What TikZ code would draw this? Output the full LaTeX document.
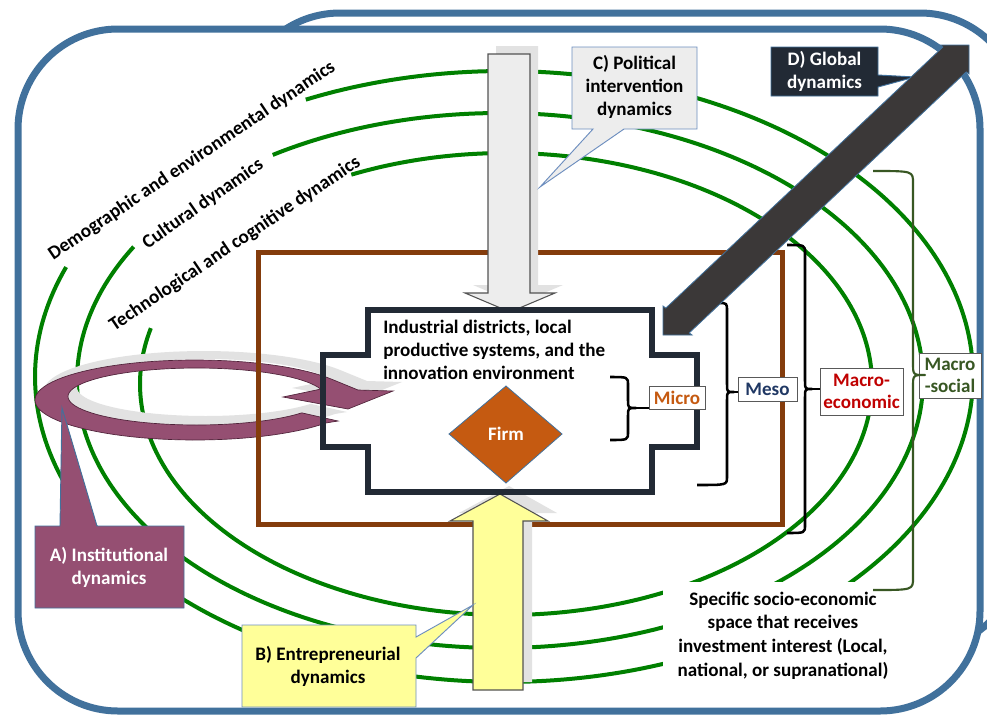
\documentclass[tikz,border=0pt]{standalone}
\usepackage{fontspec}
\setmainfont{Carlito}
\definecolor{frameblue}{RGB}{65,113,156}
\definecolor{ellgreen}{RGB}{0,128,0}
\definecolor{brownr}{RGB}{132,60,12}
\definecolor{navy}{RGB}{34,42,53}
\definecolor{firmor}{RGB}{197,90,17}
\definecolor{darkarrow}{RGB}{59,56,56}
\definecolor{lightg}{RGB}{237,237,237}
\definecolor{shadowg}{RGB}{226,226,226}
\definecolor{yel}{RGB}{255,255,153}
\definecolor{mauve}{RGB}{149,79,114}
\definecolor{mauveedge}{RGB}{80,35,58}
\definecolor{mesoblue}{RGB}{32,56,100}
\definecolor{macrored}{RGB}{192,0,0}
\definecolor{socgreen}{RGB}{56,87,35}
\definecolor{calloutedge}{RGB}{109,142,191}
\begin{document}
\begin{tikzpicture}[x=0.75pt,y=-0.75pt,
  lbl/.style={font=\fontsize{14.3}{17.3}\selectfont\bfseries, align=center, inner sep=0pt},
  rot/.style={font=\fontsize{14.4}{17}\selectfont\bfseries, inner sep=0pt},
  ell/.style={draw=ellgreen, line width=3pt},
  brace/.style={line width=1.9pt, line join=round},
  tag/.style={draw=gray!70!black, line width=0.6pt, fill=white, inner sep=1pt, align=center,
              font=\fontsize{14.3}{17}\selectfont\bfseries},
  frame/.style={draw=frameblue, line width=5.25pt, fill=white, rounded corners=75pt}]

\useasboundingbox (0,0) rectangle (987,714);

% frames
\path[frame] (240,13) rectangle (1020,650);
\path[frame] (18,29) rectangle (980,711);

% green ellipses
\draw[ell] plot[domain=245:561,samples=260] ({504+469*cos(\x)},{376.5+305.5*sin(\x)});
\draw[ell] plot[domain=237.5:570,samples=260] ({500+423*cos(\x)},{380.5+267.5*sin(\x)});
\draw[ell] plot[domain=245:554,samples=260] ({506+366*cos(\x)},{384+231*sin(\x)});

% rotated labels
\node[rot, rotate=34] (demo) at (192,161) {Demographic and environmental dynamics};
\node[rot, rotate=35] (cult) at (203,204) {Cultural dynamics};
\node[rot, rotate=34] (tech) at (235,244) {Technological and cognitive dynamics};

% white area behind the bottom-right text
\fill[white] (663,582) rectangle (905,702);

% circular institutional arrow: shadow, then arrow
\fill[shadowg, shift={(9,-9)}] (338,421) -- plot[domain=35:330,samples=80] ({195+160*cos(\x)},{400+40*sin(\x)})
   -- (358,390) -- (393,391) -- (348,409) -- (283,397)
   -- plot[domain=15:325,samples=80] ({196.5+128.5*cos(360-\x)},{396.5+28.5*sin(360-\x)}) -- cycle;
\draw[fill=mauve, draw=mauveedge, line width=0.5pt] (338,421) -- plot[domain=35:330,samples=80] ({195+160*cos(\x)},{400+40*sin(\x)})
   -- (358,390) -- (393,391) -- (348,409) -- (283,397)
   -- plot[domain=15:325,samples=80] ({196.5+128.5*cos(360-\x)},{396.5+28.5*sin(360-\x)}) -- cycle;

% brown rectangle
\draw[brownr, line width=3.75pt] (258,252) rectangle (782,524);

% C arrow (down)
\fill[shadowg] (496,46) -- (538,46) -- (538,285) -- (563,285) -- (518,304) -- (473,285) -- (496,285) -- cycle;
\draw[draw=gray!65!black, fill=lightg, line width=0.8pt] (488,54) -- (530,54) -- (530,293) -- (555,293) -- (510,312) -- (465,293) -- (488,293) -- cycle;

% B arrow (up)
\fill[shadowg] (482,682) -- (532,682) -- (532,513) -- (557,513) -- (509,486) -- (459,513) -- (482,513) -- cycle;
\draw[draw=gray!65!black, fill=yel, line width=0.8pt] (473,690) -- (523,690) -- (523,521) -- (548,521) -- (500,494) -- (450,521) -- (473,521) -- cycle;

% central cross-shaped box
\draw[navy, line width=4.5pt, line join=miter] (368,310) -- (652,310) -- (652,355) -- (697,355) -- (697,447) -- (652,447) -- (652,492) -- (368,492) -- (368,447) -- (323,447) -- (323,355) -- (368,355) -- cycle;
\node[lbl, align=left, anchor=west] (ind) at (383,350) {Industrial districts, local\\productive systems, and the\\innovation environment};

% firm
\draw[fill=firmor, draw=frameblue, line width=0.6pt] (506,386) -- (562,434) -- (506,483) -- (449,434) -- cycle;
\node[lbl, text=white] (firm) at (506,434) {Firm};

% level labels
\node[tag, text=firmor, minimum width=42pt, minimum height=17.25pt] (micro) at (677,397.5) {Micro};
\node[tag, text=mesoblue, minimum width=44.25pt, minimum height=18pt] (meso) at (767.5,389) {Meso};
\node[tag, text=macrored, minimum width=62.25pt, minimum height=35.25pt] (meco) at (861.5,391.5) {Macro-\\economic};
\node[tag, text=socgreen, minimum width=46.5pt, minimum height=33.75pt] (msoc) at (950,375.5) {Macro\\-social};

% braces
\coordinate (tipmi) at (636,408);
\coordinate (tipme) at (734,392);
\coordinate (tipma) at (812,389);
\coordinate (tipms) at (925,375);
\draw[brace] (610,377) .. controls (628,377) .. (628,385) -- (628,400) .. controls (628,408) .. (tipmi)
   .. controls (628,408) .. (628,416) -- (628,432) .. controls (628,440) .. (610,440);
\draw[brace] (tipmi) -- (micro.west |- tipmi);
\draw[brace] (718,303) .. controls (727,303) .. (727,311) -- (727,384) .. controls (727,392) .. (tipme)
   .. controls (727,392) .. (727,400) -- (727,477) .. controls (727,485) .. (697,485);
\draw[brace] (tipme) -- (meso.west |- tipme);
\draw[brace] (787,245) .. controls (805,245) .. (805,253) -- (805,381) .. controls (805,389) .. (tipma)
   .. controls (805,389) .. (805,397) -- (805,525) .. controls (805,533) .. (787,533);
\draw[brace] (tipma) -- (meco.west |- tipma);
\draw[brace, socgreen, line width=1.6pt] (873,171) .. controls (913,171) .. (913,183) -- (913,363) .. controls (913,375) .. (tipms)
   .. controls (913,375) .. (913,387) -- (913,578) .. controls (913,590) .. (873,590);

% bottom-right text
\node[lbl, font=\fontsize{14.3}{17.7}\selectfont\bfseries] (spec) at (783,635.5) {Specific socio-economic\\space that receives\\investment interest (Local,\\national, or supranational)};

% callouts
\draw[fill=mauve, draw=frameblue, line width=0.7pt] (35,526) -- (60,526) -- (62,408) -- (97,526) -- (184,526) -- (184,608) -- (35,608) -- cycle;
\node[lbl, text=white] (calA) at (109,567) {A) Institutional\\dynamics};

\draw[fill=yel, draw=calloutedge, line width=0.7pt] (242,625) -- (416,625) -- (416,637) -- (473,605) -- (416,658) -- (416,707) -- (242,707) -- cycle;
\node[lbl] (calB) at (328,666.5) {B) Entrepreneurial\\dynamics};

\draw[fill=lightg, draw=calloutedge, line width=0.7pt] (572,47) -- (697,47) -- (697,129) -- (624,129) -- (540,187) -- (593,129) -- (572,129) -- cycle;
\node[lbl] (calC) at (634.5,87) {C) Political\\intervention\\dynamics};

\draw[fill=navy, draw=frameblue, line width=0.7pt] (771,47) -- (878,47) -- (878,75) -- (915,77) -- (878,87) -- (878,96) -- (771,96) -- cycle;
\node[lbl, text=white] (calD) at (824.5,71.5) {D) Global\\dynamics};

% D arrow (double headed)
\draw[fill=darkarrow, draw=frameblue, line width=0.6pt, line join=miter] (969,45) -- (969,74) -- (966.2,71.9) -- (689.2,332.9) -- (692,335) -- (663,335) -- (663,306) -- (665.8,308.1) -- (942.8,47.1) -- (940,45) -- cycle;

\end{tikzpicture}
\end{document}
